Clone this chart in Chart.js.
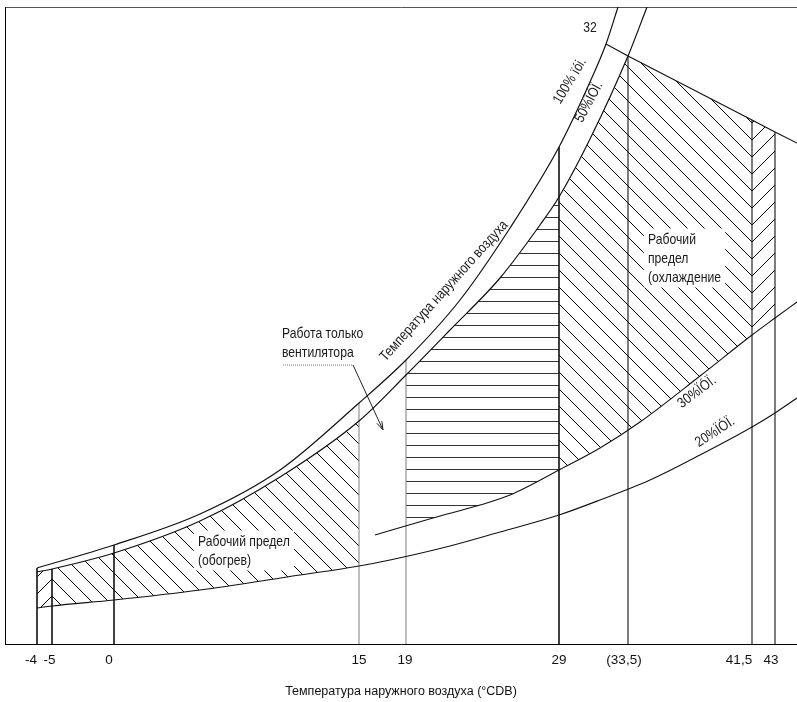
<!DOCTYPE html>
<html><head><meta charset="utf-8">
<script src="https://cdn.jsdelivr.net/npm/chart.js@4.4.0/dist/chart.umd.min.js"></script>
<style>html,body{margin:0;padding:0;background:#fff;}canvas{display:block;}</style>
</head><body>
<canvas id="c" width="797" height="702"></canvas>
<script>
// ---------- data (schematic chart units: x along the axis, y upward) ----------
const tickPos    = [26, 44.5, 104, 354, 400, 554, 619, 734, 766];
const tickLabels = ['-4', '-5', '0', '15', '19', '29', '(33,5)', '41,5', '43'];

const rh100X = [32, 109, 195, 275, 354, 401, 455, 505, 554, 585, 601, 613];
const rh100Y = [76, 99, 130, 174, 241, 284, 344, 416, 497, 562, 600, 637];

const rh50X = [32, 47, 109, 195, 275, 354, 401, 445, 495, 535, 554, 585, 623, 642];
const rh50Y = [72, 75, 91, 123, 167, 223, 269, 314, 366, 419, 447, 505, 588, 637];

const rh20X = [32, 47, 109, 195, 282, 354, 385, 445, 495, 554, 595, 645, 695, 747, 770, 792];
const rh20Y = [36, 38, 44, 54, 67, 78, 84, 98, 112, 129, 144, 164, 189, 217, 231, 246];

const rh30X = [370, 428, 475, 505, 554, 595, 635, 695, 747, 770, 792];
const rh30Y = [109, 126, 139, 149, 174, 196, 222, 268, 309, 326, 342];

const limitX = [601, 623, 747, 770, 792];
const limitY = [600, 588, 524, 512, 501];

const vertX   = [32, 47, 109, 354, 401, 554, 623, 747, 770];
const vertTop = [76, 75, 99, 241, 284, 497, 588, 524, 512];

const leaderX = [278, 348, 378];
const leaderY = [279, 279, 214];

const axisTitle = 'Температура наружного воздуха (°CDB)';

// ---------- styling helpers ----------
const FONT = '"Liberation Sans", Arial, sans-serif';
const pts = (xs, ys) => xs.map((x, i) => ({x, y: ys[i]}));
const ctx = document.getElementById('c').getContext('2d');

function hatch(kind, s, d, color) {
  const c = document.createElement('canvas'); c.width = s; c.height = s;
  const g = c.getContext('2d'); g.strokeStyle = color; g.fillStyle = color; g.lineWidth = 1;
  g.beginPath();
  if (kind === 'back') {
    for (let k = -1; k <= 1; k++) { g.moveTo(-s, k * s - s); g.lineTo(2 * s, k * s + 2 * s); }
    g.stroke();
  } else if (kind === 'fwd') {
    for (const c0 of [d - s, d, d + s, d + 2 * s]) { g.moveTo(-s, c0 + s); g.lineTo(c0 + s, -s); }
    g.stroke();
  } else {
    g.fillRect(0, d, s, 1);
  }
  return ctx.createPattern(c, 'repeat');
}
const pBack  = hatch('back', 17, 0, '#000');
const pFwdL  = hatch('fwd', 17, 2, '#000');
const pFwdR  = hatch('fwd', 17, 8, '#000');
const pHoriz = hatch('horiz', 12, 1, '#333');

function zones(list) {
  return c => {
    const m = (c.p0.parsed.x + c.p1.parsed.x) / 2;
    for (const z of list) if (m > z[0] && m < z[1]) return z[2];
    return 'rgba(0,0,0,0)';
  };
}
const stroke = (data, color, width, extra) => Object.assign({
  data, borderColor: color, borderWidth: width, pointRadius: 0, fill: false, tension: 0
}, extra || {});

const datasets = [
  stroke(pts(rh100X, rh100Y), '#111', 1.2, {cubicInterpolationMode: 'monotone'}), // 0
  stroke(pts(rh50X, rh50Y), '#111', 1.2, {cubicInterpolationMode: 'monotone'}),   // 1
  stroke(pts(rh20X, rh20Y), '#111', 1.1, {cubicInterpolationMode: 'monotone'}),   // 2
  stroke(pts(rh30X, rh30Y), '#111', 1.1, {cubicInterpolationMode: 'monotone'}),   // 3
  stroke(pts(limitX, limitY), '#111', 1.1)                                         // 4
];
vertX.forEach((x, i) => {
  const grey = (i === 3 || i === 4);
  datasets.push(stroke([{x, y: 0}, {x, y: vertTop[i]}], grey ? '#888' : '#111', (i < 3 || i === 5) ? 1.6 : 1.1));
});
const leaderIndex = datasets.length;
datasets.push(stroke(pts(leaderX, leaderY), '#222', 1, {
  segment: {
    borderDash: c => c.p0DataIndex === 0 ? [1, 1] : undefined,
    borderColor: c => c.p0DataIndex === 0 ? '#777' : '#222'
  }
}));
// hatched zones
datasets.push({data: pts(rh50X, rh50Y), borderWidth: 0, borderColor: 'rgba(0,0,0,0)', pointRadius: 0,
  backgroundColor: 'rgba(0,0,0,0)', cubicInterpolationMode: 'monotone', fill: 2,
  segment: {backgroundColor: zones([[32, 47, pFwdL], [47, 354, pBack]])}});
datasets.push({data: pts(rh50X, rh50Y), borderWidth: 0, borderColor: 'rgba(0,0,0,0)', pointRadius: 0,
  backgroundColor: 'rgba(0,0,0,0)', cubicInterpolationMode: 'monotone', fill: 3,
  segment: {backgroundColor: zones([[401, 554, pHoriz], [554, 623, pBack]])}});
datasets.push({data: pts(limitX, limitY), borderWidth: 0, borderColor: 'rgba(0,0,0,0)', pointRadius: 0,
  backgroundColor: 'rgba(0,0,0,0)', tension: 0, fill: 3,
  segment: {backgroundColor: zones([[623, 747, pBack], [747, 770, pFwdR]])}});

// ---------- text notes (positions in chart units) ----------
const notes = [
  {lines: ['Рабочий предел', '(обогрев)'], x: 193, y: 102, align: 'left', box: true},
  {lines: ['Работа только', 'вентилятора'], x: 277, y: 310, align: 'left'},
  {lines: ['Рабочий', 'предел', '(охлаждение'], x: 643, y: 404, align: 'left', box: true},
  {lines: ['Температура наружного воздуха'], x: 439, y: 353, angle: -48},
  {lines: ['100% ïói.'], x: 565, y: 563, angle: -59},
  {lines: ['50%ÏÓÏ.'], x: 584, y: 542, angle: -62},
  {lines: ['30%ÏÓÏ.'], x: 692, y: 252, angle: -37},
  {lines: ['20%ÏÓÏ.'], x: 710, y: 212, angle: -33},
  {lines: ['32'], x: 585, y: 616}
];

const notesPlugin = {
  id: 'notes',
  afterDatasetsDraw(chart) {
    const c = chart.ctx, sx = chart.scales.x, sy = chart.scales.y;
    // arrow head on leader
    const p = chart.getDatasetMeta(leaderIndex).data;
    const a = p[p.length - 2], b = p[p.length - 1];
    const ang = Math.atan2(b.y - a.y, b.x - a.x);
    c.save(); c.strokeStyle = '#222'; c.lineWidth = 1; c.beginPath();
    for (const s of [-0.3, 0.3]) {
      c.moveTo(b.x, b.y);
      c.lineTo(b.x - 9 * Math.cos(ang + s), b.y - 9 * Math.sin(ang + s));
    }
    c.stroke(); c.restore();
    for (const n of notes) {
      const px = sx.getPixelForValue(n.x), py = sy.getPixelForValue(n.y);
      c.save();
      c.translate(px, py);
      if (n.angle) c.rotate(n.angle * Math.PI / 180);
      c.scale(0.84, 1);               // narrow lettering as in the drawing
      c.font = '14.5px ' + FONT;
      c.textBaseline = 'middle';
      c.textAlign = n.align || 'center';
      const lh = 19;
      if (n.box) {
        const w = Math.max(...n.lines.map(t => c.measureText(t).width));
        c.fillStyle = '#fff';
        c.fillRect(-5, -lh / 2 - 2, w + 10, lh * n.lines.length + 2);
      }
      c.fillStyle = '#1a1a1a';
      n.lines.forEach((t, i) => c.fillText(t, 0, i * lh));
      c.restore();
    }
  }
};

new Chart(ctx, {
  type: 'line',
  data: {datasets},
  options: {
    responsive: false, animation: false, devicePixelRatio: 1, events: [],
    layout: {padding: {left: 5, top: 7, right: 0, bottom: 0}},
    plugins: {legend: {display: false}, tooltip: {enabled: false}},
    scales: {
      x: {
        type: 'linear', position: 'bottom', min: 0, max: 792,
        afterBuildTicks: s => { s.ticks = tickPos.map(v => ({value: v})); },
        afterFit: s => { s.height = 58; },
        ticks: {callback: (v, i) => tickLabels[i], autoSkip: false, maxRotation: 0, minRotation: 0,
                padding: 8, color: '#111', font: {family: FONT, size: 13.5}},
        grid: {display: false, drawTicks: false},
        border: {display: true, color: '#000', width: 1},
        title: {display: true, text: axisTitle, color: '#111', font: {family: FONT, size: 12.5},
                padding: {top: 0, bottom: 3}}
      },
      xTop: {
        type: 'linear', position: 'top', min: 0, max: 792,
        afterFit: s => { s.height = 0; },
        ticks: {display: false}, grid: {display: false, drawTicks: false},
        border: {display: true, color: '#555', width: 1, dash: [2, 1]}
      },
      y: {
        type: 'linear', position: 'left', min: 0, max: 637,
        afterFit: s => { s.width = 0; },
        ticks: {display: false}, grid: {display: false, drawTicks: false},
        border: {display: true, color: '#000', width: 1}
      }
    }
  },
  plugins: [notesPlugin]
});
</script>
</body></html>
